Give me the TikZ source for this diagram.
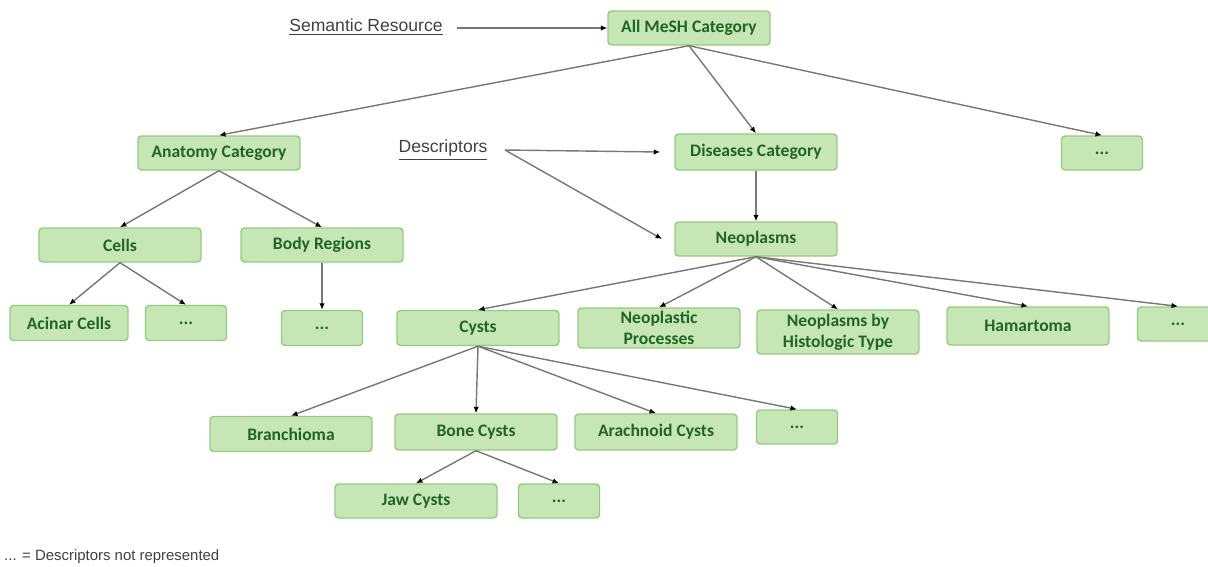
\documentclass[tikz,border=0pt]{standalone}
\usepackage{fontspec}
\usepackage{xcolor}
\usetikzlibrary{arrows.meta}
\newfontfamily\boxfont{Carlito}
\newfontfamily\labfont{Liberation Sans}
\definecolor{boxfill}{HTML}{C6E6B6}
\definecolor{boxline}{HTML}{93CC7E}
\definecolor{boxtext}{HTML}{1F6623}
\definecolor{edgegray}{HTML}{777777}

\begin{document}
\begin{tikzpicture}[x=0.02cm,y=-0.02cm,
    cat/.style={draw=boxline,fill=boxfill,rounded corners=2pt,line width=0.8pt,
        minimum width=3.24cm,minimum height=0.68cm,inner sep=1pt,align=center,
        font=\boxfont\bfseries\fontsize{10}{12}\selectfont,text=boxtext},
    dots/.style={cat,minimum width=1.62cm},
    edge/.style={draw=edgegray,line width=0.8pt,-{Latex[black,length=1.3mm,width=1.1mm]}},
    lab/.style={font=\labfont\fontsize{10}{12}\selectfont,text=black!75}]
        \clip (0,0) rectangle (1208,566);

        % first level
        \node[cat] (mesh) at (689,28) {All MeSH Category};
        \node[cat] (anat) at (219,153) {Anatomy Category};
        \node[cat,minimum height=0.72cm] (dis) at (756,152) {Diseases Category};
        \node[dots] (more1) at (1102,153) {...};

        % anatomy branch
        \node[cat] (cells) at (120,245) {Cells};
        \node[cat] (body) at (322,245) {Body Regions};
        \node[cat,minimum width=2.36cm,minimum height=0.7cm] (acinar) at (69,323) {Acinar Cells};
        \node[dots,minimum height=0.7cm] (more2) at (186,323) {...};
        \node[dots,minimum height=0.7cm] (more3) at (322,328) {...};

        % diseases branch
        \node[cat] (neo) at (756,239) {Neoplasms};
        \node[cat,minimum height=0.7cm] (cysts) at (478,328) {Cysts};
        \node[cat,minimum height=0.8cm] (proc) at (659,328) {Neoplastic\\Processes};
        \node[cat,minimum height=0.88cm] (histo) at (838,332) {Neoplasms by\\Histologic Type};
        \node[cat,minimum height=0.76cm] (hama) at (1028,326) {Hamartoma};
        \node[dots] (more4) at (1178,324) {...};

        \node[cat,minimum height=0.7cm] (branch) at (291,434) {Branchioma};
        \node[cat,minimum height=0.72cm] (bone) at (476,432) {Bone Cysts};
        \node[cat,minimum height=0.72cm] (arach) at (656,432) {Arachnoid Cysts};
        \node[dots] (more5) at (797,427) {...};
        \node[cat] (jaw) at (416,501) {Jaw Cysts};
        \node[dots] (more6) at (559,501) {...};

        % labels
        \node[lab] (sem) at (366,27) {\underline{Semantic Resource}};
        \node[lab] (desc) at (443,150) {\underline{Descriptors}};
        \node[lab,font=\labfont\fontsize{8.5}{10}\selectfont,anchor=west] (note) at (-2,557) {... = Descriptors not represented};

        \foreach \a/\b in {mesh/anat,mesh/dis,mesh/more1,anat/cells,anat/body,
                cells/acinar,cells/more2,body/more3,dis/neo,neo/cysts,neo/proc,
                neo/histo,neo/hama,neo/more4,cysts/branch,cysts/bone,cysts/arach,
                cysts/more5,bone/jaw,bone/more6}
            \draw[edge] (\a.south) -- (\b.north);

        \draw[edge] (sem.east) ++(8,1) -- (mesh.west);
        \coordinate (dstart) at (505,150);
        \draw[edge] (dstart) -- ([xshift=-8pt]dis.west);
        \draw[edge] (dstart) -- ([xshift=-7pt]neo.west);
    \end{tikzpicture}
\end{document}
